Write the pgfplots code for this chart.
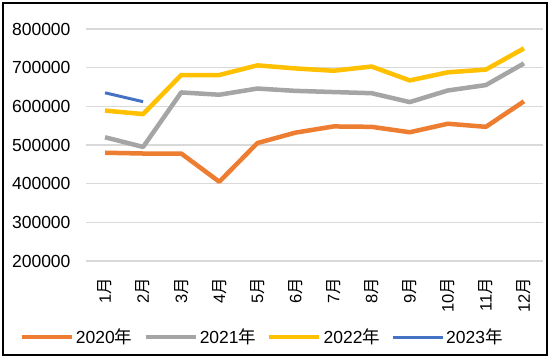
\documentclass[border=0pt]{standalone}
\usepackage{pgfplots}
\pgfplotsset{compat=1.18}
\usepackage{fontspec}
\setmainfont{Liberation Sans}
\newfontfamily\cjk{Noto Sans CJK SC}
\definecolor{cA}{HTML}{ED7D31}
\definecolor{cB}{HTML}{A5A5A5}
\definecolor{cC}{HTML}{FFC000}
\definecolor{cD}{HTML}{4472C4}
\definecolor{gridc}{HTML}{D9D9D9}
\newcommand\yue{{\cjk 月}}
\newcommand\nian{{\cjk 年}}
\begin{document}
\begin{tikzpicture}
\useasboundingbox[fill=white] (-86pt,-99pt) rectangle (464pt,261pt);
\begin{axis}[
  at={(0pt,0pt)}, anchor=south west,
  scale only axis, width=457pt, height=232pt,
  xmin=-0.5, xmax=11.5, ymin=200000, ymax=800000,
  xtick={0,...,11},
  xticklabels={1\yue,2\yue,3\yue,4\yue,5\yue,6\yue,7\yue,8\yue,9\yue,10\yue,11\yue,12\yue},
  ytick={200000,300000,400000,500000,600000,700000,800000},
  scaled y ticks=false,
  /pgf/number format/assume math mode=true,
  yticklabel style={/pgf/number format/fixed, /pgf/number format/1000 sep={}, font=\fontsize{17.5}{20}\selectfont},
  yticklabel shift=12pt,
  xticklabel style={rotate=90, anchor=east, font=\fontsize{16.5}{19}\selectfont},
  xticklabel shift=13pt,
  axis line style={draw=none},
  major tick length=0pt,
  ymajorgrids, grid style={line width=1.3pt, color=gridc},
  line join=round,
  legend columns=4,
  legend style={at={(0.385,-0.328)}, anchor=center, draw=none, fill=none,
    font=\fontsize{17.5}{20}\selectfont,
    /tikz/every even column/.append style={column sep=9pt},
    /tikz/every odd column/.append style={column sep=0pt}},
  legend image code/.code={\draw[#1] (0pt,0pt) -- (50pt,0pt);},
]
\addplot[color=cA, line width=4.5pt] coordinates {(0,480000)(1,478000)(2,478000)(3,405000)(4,505000)(5,532000)(6,548000)(7,547000)(8,533000)(9,555000)(10,547000)(11,613000)};
\addlegendentry{2020\nian}
\addplot[color=cB, line width=4.5pt] coordinates {(0,520000)(1,495000)(2,636000)(3,630000)(4,646000)(5,640000)(6,637000)(7,634000)(8,611000)(9,641000)(10,655000)(11,711000)};
\addlegendentry{2021\nian}
\addplot[color=cC, line width=4.5pt] coordinates {(0,589000)(1,580000)(2,681000)(3,681000)(4,706000)(5,698000)(6,692000)(7,703000)(8,667000)(9,688000)(10,695000)(11,750000)};
\addlegendentry{2022\nian}
\addplot[color=cD, line width=3pt] coordinates {(0,635000)(1,612000)};
\addlegendentry{2023\nian}
\end{axis}
\draw[line width=1.5pt, black] (-83pt,-94pt) rectangle (461pt,258pt);
\end{tikzpicture}
\end{document}
